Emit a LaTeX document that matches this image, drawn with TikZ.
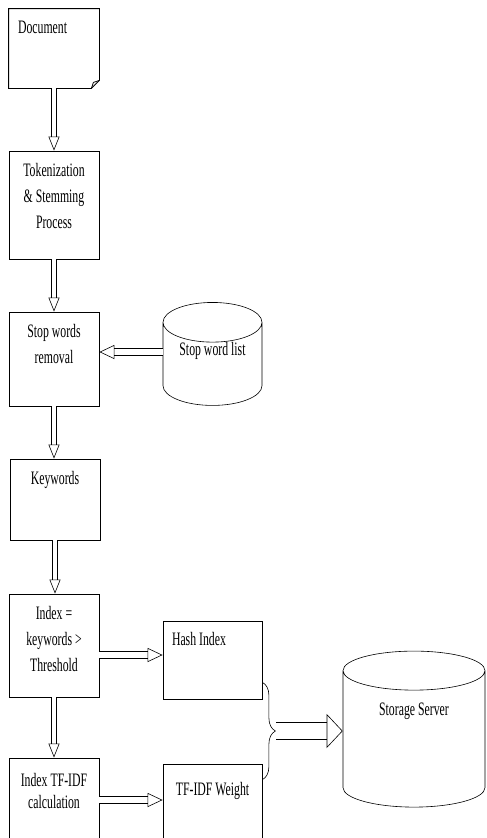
\documentclass[tikz,border=0pt]{standalone}
\usepackage{fontspec}
\setmainfont{Liberation Serif}[FakeStretch=0.62]
\usetikzlibrary{arrows.meta,shapes.geometric,decorations.pathreplacing}

\begin{document}
\begin{tikzpicture}[x=1pt,y=1pt,line width=.8pt,font=\fontsize{19}{26}\selectfont,
  box/.style={draw,minimum width=90pt,inner sep=0pt},
  boxtext/.style={anchor=north,align=center,inner sep=0pt,yshift=-12pt},
  store/.style={draw,line width=.6pt,cylinder,shape border rotate=90,aspect=.6,inner sep=0pt},
  flow/.style={double,double distance=4pt,line width=.6pt,-{Triangle[open,length=14pt,width=11pt]}},
  sideflow/.style={double,double distance=6pt,line width=.6pt,-{Triangle[open,length=15pt,width=14pt]}},
  bigflow/.style={double,double distance=16pt,line width=.6pt,-{Triangle[open,length=16pt,width=34pt]}}]
  \useasboundingbox (0,0) rectangle (487,-838);
  \clip (0,0) rectangle (487,-838);
  \node[box,draw=none,minimum height=79pt,
    label={[boxtext,anchor=north west,xshift=9pt]north west:Document}] (doc) at (54,-48.5) {};
  \draw (doc.north west) -- (doc.north east) -- ([yshift=8pt]doc.south east)
    -- ([xshift=-8pt]doc.south east) -- (doc.south west) -- cycle;
  \draw ([xshift=-8pt]doc.south east) -- ([xshift=-6pt,yshift=6pt]doc.south east) -- ([yshift=8pt]doc.south east);
  \node[box,minimum height=108pt,label={[boxtext]north:Tokenization\\\& Stemming\\Process}] (tok) at (54,-205) {};
  \node[box,minimum height=94pt,label={[boxtext]north:Stop words\\removal}] (stop) at (54,-359) {};
  \node[store,minimum width=99pt,minimum height=102pt,text depth=30pt] (swl) at (212.5,-364) {Stop word list};
  \node[box,minimum height=81pt,label={[boxtext]north:Keywords}] (kw) at (55,-499.5) {};
  \node[box,minimum height=103pt,label={[boxtext]north:Index =\\keywords >\\Threshold}] (idx) at (54,-645.5) {};
  \node[box,minimum height=100pt,label={[boxtext,yshift=-3pt]north:Index TF-IDF\\[-4pt]calculation}] (tfidf) at (54,-808) {};
  \node[box,minimum width=99pt,minimum height=78pt,
    label={[boxtext,anchor=north west,xshift=9pt,yshift=1pt]north west:Hash Index}] (hash) at (212.5,-660) {};
  \node[box,minimum width=99pt,minimum height=100pt,label={[boxtext,yshift=-6pt]north:TF-IDF Weight}] (tfw) at (212.5,-814) {};
  \node[store,minimum width=142pt,minimum height=156pt,aspect=.56,text depth=60pt] (srv) at (414,-739) {Storage Server};
  \draw[flow] (doc.south) -- (doc.south |- tok.north);
  \draw[flow] (tok.south) -- (tok.south |- stop.north);
  \draw[flow] (stop.south) -- (stop.south |- kw.north);
  \draw[flow] (kw.south) -- (kw.south |- idx.north);
  \draw[flow] (idx.south) -- (idx.south |- tfidf.north);
  \draw[sideflow] ([yshift=12pt]swl.west) -- ([yshift=12pt]swl.west -| stop.east);
  \draw[sideflow] ([yshift=5pt]hash.west -| idx.east) -- ([yshift=5pt]hash.west);
  \draw[sideflow] ([yshift=14pt]tfw.west -| tfidf.east) -- ([yshift=14pt]tfw.west);
  \coordinate (brtop) at ([yshift=17pt]hash.south east);
  \coordinate (brbot) at ([yshift=-16pt]tfw.north east);
  \coordinate (brtip) at (276,-731);
  \draw[line width=.6pt,decorate,decoration={brace,amplitude=13pt}] (brtop) -- (brbot);
  \draw[bigflow] (brtip) -- (brtip -| srv.west);
\end{tikzpicture}
\end{document}
